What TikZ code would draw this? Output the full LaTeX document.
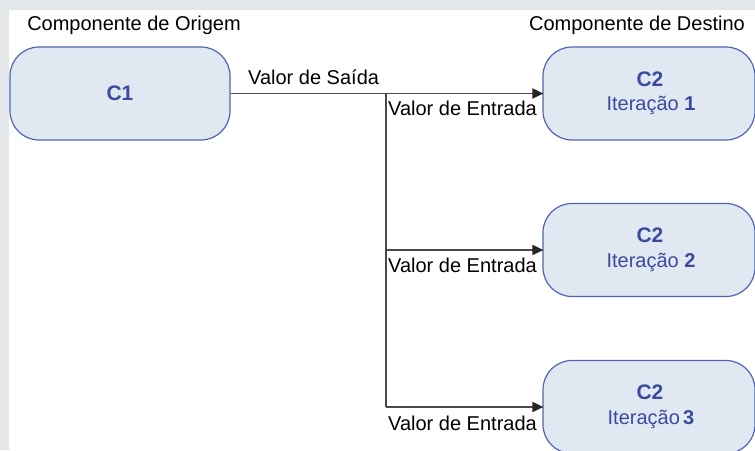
\documentclass[tikz,border=0pt]{standalone}
\usepackage{fontspec}
\setmainfont{Liberation Sans}
\usetikzlibrary{arrows.meta}
\definecolor{bggray}{HTML}{E3E7EA}
\definecolor{boxfill}{HTML}{E0E8F2}
\definecolor{boxline}{HTML}{5263B8}
\definecolor{boxtext}{HTML}{3C4A9E}
\definecolor{wire}{HTML}{4A4A4A}
\tikzset{
  comp/.style={draw=boxline, fill=boxfill, line width=1.2pt, rounded corners=29pt,
    minimum width=220pt, minimum height=93pt, inner sep=0pt},
  dest/.style={comp, minimum width=212pt},
  lbl/.style={font=\fontsize{20}{24}\selectfont, text=black, inner sep=0pt},
  ttl/.style={font=\fontsize{21}{25}\selectfont\bfseries, text=boxtext, inner sep=0pt},
  itr/.style={font=\fontsize{20}{24}\selectfont, text=boxtext, inner sep=0pt},
  wireline/.style={draw=wire, line width=1.8pt},
  wirearrow/.style={wireline, -{Triangle[length=11pt,width=10pt,color=black!85]}, shorten >=-1pt}
}
\begin{document}
\begin{tikzpicture}[x=1pt,y=-1pt]
\useasboundingbox (0,0) rectangle (755,450);
\clip (0,0) rectangle (755,450);
\fill[bggray] (0,0) rectangle (755,450);
\fill[white] (9,10) rectangle (755,450);

\node[comp] (c1) at (120,93.5) {};
\node[ttl] (c1t) at (120,93) {C1};

\node[dest] (c2a) at (649,93.5) {};
\node[dest] (c2b) at (649,250) {};
\node[dest] (c2c) at (649,407) {};

\node[ttl] (c2at) at (650,79) {C2};
\node[itr] (c2ai) at (651,105) {Iteração \textbf{1}};
\node[ttl] (c2bt) at (650,235) {C2};
\node[itr] (c2bi) at (651,262) {Iteração \textbf{2}};
\node[ttl] (c2ct) at (650,392) {C2};
\node[itr] (c2ci) at (651,419) {Iteração\,\textbf{3}};

\node[lbl] (orig) at (134,25) {Componente de Origem};
\node[lbl] (dst) at (637,25) {Componente de Destino};

\coordinate (j1) at (386,93.5);
\coordinate (j2) at (386,250);
\coordinate (j3) at (386,407);

\draw[wireline] (c1.east) -- (j1);
\draw[wireline] (j1) -- (j3);
\draw[wirearrow] (j1) -- (c2a.west);
\draw[wirearrow] (j2) -- (c2b.west);
\draw[wirearrow] (j3) -- (c2c.west);

\node[lbl, anchor=west] (vs) at (248,77) {Valor de Saída};
\node[lbl, anchor=west] (ve1) at (388,108) {Valor de Entrada};
\node[lbl, anchor=west] (ve2) at (388,265) {Valor de Entrada};
\node[lbl, anchor=west] (ve3) at (388,423) {Valor de Entrada};
\end{tikzpicture}
\end{document}
